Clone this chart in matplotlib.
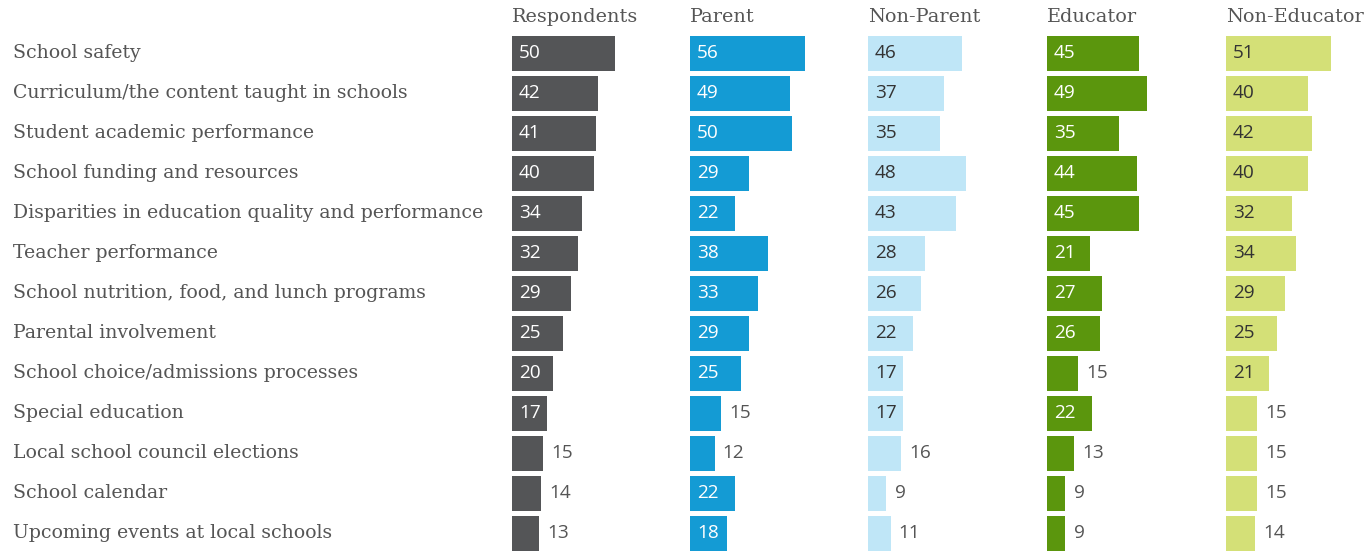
import matplotlib
matplotlib.use("Agg")
import matplotlib.pyplot as plt
from matplotlib.transforms import blended_transform_factory

categories = [
    "School safety",
    "Curriculum/the content taught in schools",
    "Student academic performance",
    "School funding and resources",
    "Disparities in education quality and performance",
    "Teacher performance",
    "School nutrition, food, and lunch programs",
    "Parental involvement",
    "School choice/admissions processes",
    "Special education",
    "Local school council elections",
    "School calendar",
    "Upcoming events at local schools",
]
groups = ["Respondents", "Parent", "Non-Parent", "Educator", "Non-Educator"]
respondents = [50, 42, 41, 40, 34, 32, 29, 25, 20, 17, 15, 14, 13]
parent = [56, 49, 50, 29, 22, 38, 33, 29, 25, 15, 12, 22, 18]
non_parent = [46, 37, 35, 48, 43, 28, 26, 22, 17, 17, 16, 9, 11]
educator = [45, 49, 35, 44, 45, 21, 27, 26, 15, 22, 13, 9, 9]
non_educator = [51, 40, 42, 40, 32, 34, 29, 25, 21, 15, 15, 15, 14]
series = [respondents, parent, non_parent, educator, non_educator]

colors = ["#545557", "#149bd4", "#bfe6f7", "#5b960d", "#d4e077"]
inside_text = ["white", "white", "#333333", "white", "#333333"]

W, H = 1369, 552
fig = plt.figure(figsize=(W / 100, H / 100), dpi=100)
fig.patch.set_facecolor("white")

label_font = ["DejaVu Serif"]
num_font = ["Open Sans", "DejaVu Sans"]

panel_x = [512, 690, 868, 1047, 1226]
panel_w = 176
px_per_unit = 2.05
row_px = 40.0
first_row_y = 53.5
top_px = first_row_y - row_px / 2
ymax = (H - first_row_y) / row_px

axes = []
for i, (x0, vals) in enumerate(zip(panel_x, series)):
    ax = fig.add_axes([x0 / W, 0, panel_w / W, (H - top_px) / H])
    ax.set_xlim(0, panel_w / px_per_unit)
    ax.set_ylim(ymax, -0.5)
    ax.axis("off")
    ypos = list(range(len(categories)))
    ax.barh(ypos, vals, height=0.86, color=colors[i], linewidth=0)
    for y, v in zip(ypos, vals):
        if v >= 17:
            ax.text(3.4, y, str(v), ha="left", va="center", fontsize=13.7,
                    color=inside_text[i], family=num_font)
        else:
            ax.text(v + 4.0, y, str(v), ha="left", va="center", fontsize=13.7,
                    color="#555555", family=num_font)
    fig.text(x0 / W, 1 - 17 / H, groups[i], ha="left", va="center",
             fontsize=13.9, color="#555555", family=label_font)
    axes.append(ax)

tr = blended_transform_factory(fig.transFigure, axes[0].transData)
for y, c in enumerate(categories):
    axes[0].text(13 / W, y, c, transform=tr, ha="left", va="center",
                 fontsize=13.6, color="#555555", family=label_font, clip_on=False)

fig.savefig("out.png", dpi=100, facecolor="white")
